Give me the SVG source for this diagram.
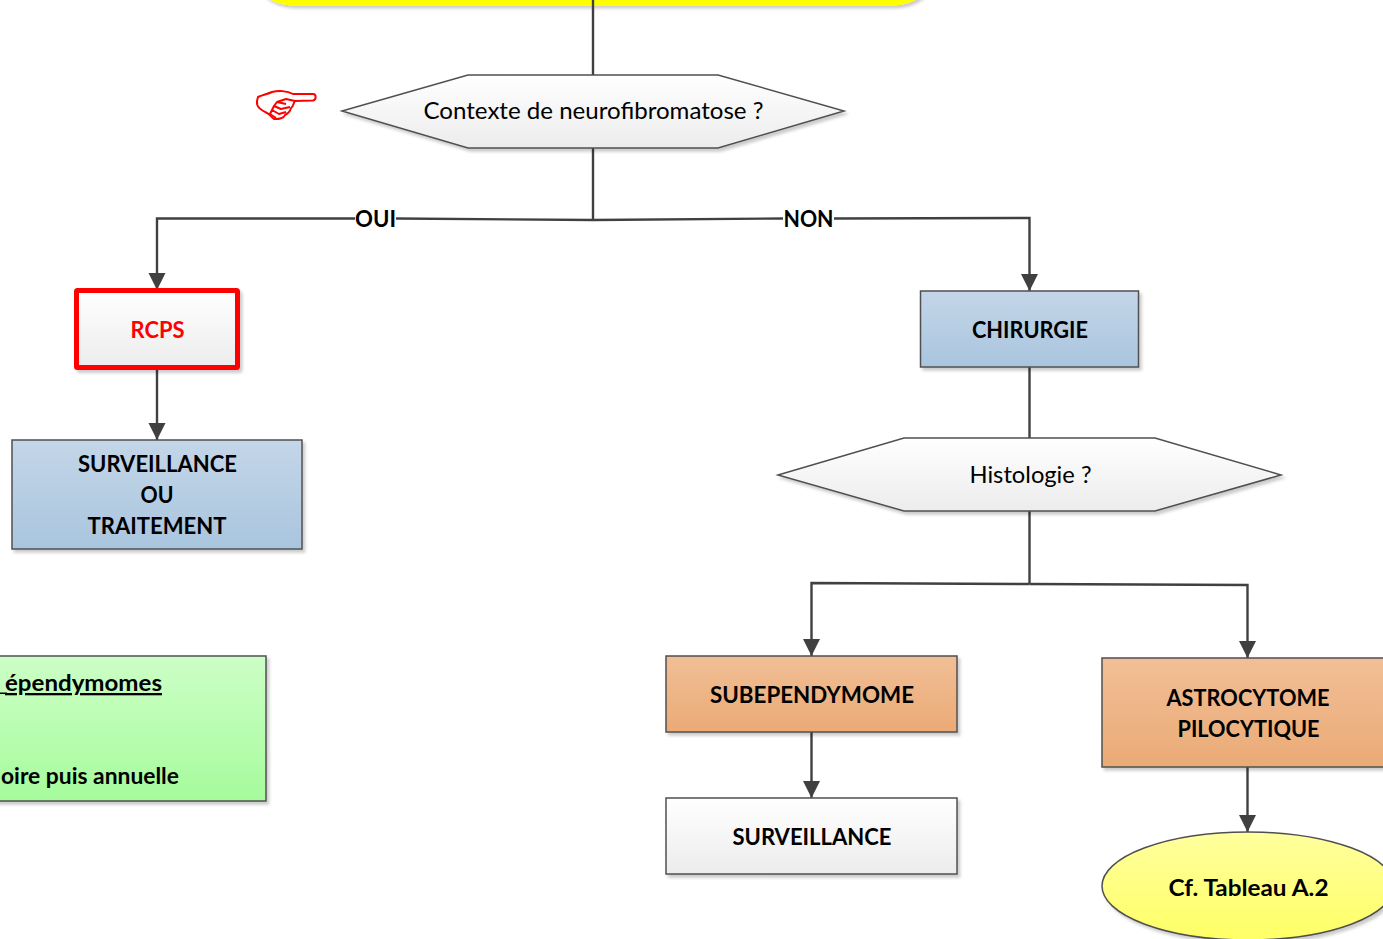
<svg xmlns="http://www.w3.org/2000/svg" width="1383" height="939" viewBox="0 0 1383 939">
<defs>
<linearGradient id="gw" x1="0" y1="0" x2="0" y2="1"><stop offset="0" stop-color="#ffffff"/><stop offset="1" stop-color="#ececec"/></linearGradient>
<linearGradient id="gb" x1="0" y1="0" x2="0" y2="1"><stop offset="0" stop-color="#c4d6e8"/><stop offset="1" stop-color="#a9c5de"/></linearGradient>
<linearGradient id="go" x1="0" y1="0" x2="0" y2="1"><stop offset="0" stop-color="#f1bf96"/><stop offset="1" stop-color="#ebaa76"/></linearGradient>
<linearGradient id="gg" x1="0" y1="0" x2="0" y2="1"><stop offset="0" stop-color="#ccffc6"/><stop offset="1" stop-color="#a6fb9c"/></linearGradient>
<linearGradient id="gy" x1="0" y1="0" x2="0" y2="1"><stop offset="0" stop-color="#ffff9e"/><stop offset="1" stop-color="#ffff66"/></linearGradient>
<filter id="sh" x="-5%" y="-5%" width="112%" height="115%"><feDropShadow dx="2.5" dy="3" stdDeviation="1.8" flood-color="#000" flood-opacity="0.2"/></filter>
<marker id="arr" markerUnits="userSpaceOnUse" markerWidth="19" markerHeight="19" refX="17" refY="9" orient="auto"><path d="M0 0.500L17 9L0 17.500Z" fill="#404040"/></marker>
</defs>
<style>
.n{stroke:#505050;stroke-width:1.500;filter:url(#sh)}
.c{fill:none;stroke:#404040;stroke-width:2.400}
text{font-family:"Lato","Carlito","Liberation Sans",sans-serif;font-size:23px;fill:#000;text-anchor:middle}
.b{font-weight:700}
</style>
<g id="node-top"><rect x="253" y="-60" width="680" height="65.500" rx="40" fill="#ffff00" style="filter:url(#sh)"/></g>
<g id="connectors">
<path class="c" d="M593 0V75"/>
<path class="c" d="M593 148V220"/>
<path class="c" d="M593 220L396 218.500"/>
<path class="c" d="M355 218.500H157V290" marker-end="url(#arr)"/>
<path class="c" d="M593 220L783 218.500"/>
<path class="c" d="M834 218.500L1029.500 218V291" marker-end="url(#arr)"/>
<path class="c" d="M157 368V440" marker-end="url(#arr)"/>
<path class="c" d="M1029.500 367V438"/>
<path class="c" d="M1029.500 511V584"/>
<path class="c" d="M1029.500 584L811.500 583V656" marker-end="url(#arr)"/>
<path class="c" d="M1029.500 584L1247.500 585V658" marker-end="url(#arr)"/>
<path class="c" d="M811.500 732V798" marker-end="url(#arr)"/>
<path class="c" d="M1247.500 766V832" marker-end="url(#arr)"/>
</g>
<g id="label-oui"><text class="b" x="375.500" y="227" textLength="41" lengthAdjust="spacingAndGlyphs">OUI</text></g>
<g id="label-non"><text class="b" x="808.500" y="227" textLength="50" lengthAdjust="spacingAndGlyphs">NON</text></g>
<g id="hand" fill="none" stroke="#ff0000" stroke-width="2" stroke-linejoin="round">
<path d="M258 97C262 95 268 94 272 92C278 90.500 287 90.500 293 94H313C316.500 94 316.500 100 313 100.500L295 101C293 103 294 106 291 108C290 112 287 114 285 115C284 118 279 119.500 274 119C271 117 270 114 267 113C261 110 256 107 257 101Z"/>
<path d="M295 101L286 99L277 102L274 106L281 109L290 107M274 106L272 110L279 114L286 112M272 110L270 114L276 118M277 102L286 104"/>
</g>
<g id="node-neuro"><polygon class="n" points="342,111 468,75 718,75 844,111 718,148 468,148" fill="url(#gw)"/><text x="593.500" y="119" textLength="340" lengthAdjust="spacingAndGlyphs">Contexte de neurofibromatose ?</text></g>
<g id="node-rcps"><rect x="76.500" y="290.500" width="161" height="77" rx="1" fill="url(#gw)" stroke="#ff0000" stroke-width="5" style="filter:url(#sh)"/><text class="b" x="157.500" y="338" style="fill:#ff0000" textLength="54" lengthAdjust="spacingAndGlyphs">RCPS</text></g>
<g id="node-surv-trait"><rect class="n" x="12" y="440" width="290" height="109" fill="url(#gb)"/>
<text class="b" x="157.500" y="472" textLength="159" lengthAdjust="spacingAndGlyphs">SURVEILLANCE</text>
<text class="b" x="157" y="503" textLength="33" lengthAdjust="spacingAndGlyphs">OU</text>
<text class="b" x="157" y="534" textLength="139" lengthAdjust="spacingAndGlyphs">TRAITEMENT</text></g>
<g id="node-chirurgie"><rect class="n" x="920.500" y="291" width="218" height="76" fill="url(#gb)"/><text class="b" x="1030" y="338" textLength="116" lengthAdjust="spacingAndGlyphs">CHIRURGIE</text></g>
<g id="node-histologie"><polygon class="n" points="778,475 904,438 1155,438 1281,475 1155,511 904,511" fill="url(#gw)"/><text x="1030.500" y="483" textLength="122" lengthAdjust="spacingAndGlyphs">Histologie ?</text></g>
<g id="node-green"><rect class="n" x="-120" y="656" width="386" height="145" fill="url(#gg)"/>
<rect x="0" y="692.500" width="7" height="1.500" fill="#000"/>
<text class="b" x="5" y="691" style="text-anchor:start;text-decoration:underline" textLength="157" lengthAdjust="spacingAndGlyphs">épendymomes</text>
<text class="b" x="1" y="784" style="text-anchor:start" textLength="178" lengthAdjust="spacingAndGlyphs">oire puis annuelle</text></g>
<g id="node-subep"><rect class="n" x="666" y="656" width="291" height="76" fill="url(#go)"/><text class="b" x="812" y="703" textLength="204" lengthAdjust="spacingAndGlyphs">SUBEPENDYMOME</text></g>
<g id="node-astro"><rect class="n" x="1102" y="658" width="296" height="109" fill="url(#go)"/>
<text class="b" x="1248" y="706" textLength="163" lengthAdjust="spacingAndGlyphs">ASTROCYTOME</text>
<text class="b" x="1248.500" y="737" textLength="142" lengthAdjust="spacingAndGlyphs">PILOCYTIQUE</text></g>
<g id="node-surv"><rect class="n" x="666" y="798" width="291" height="76" fill="url(#gw)"/><text class="b" x="812" y="845" textLength="159" lengthAdjust="spacingAndGlyphs">SURVEILLANCE</text></g>
<g id="node-tableau"><ellipse class="n" cx="1248" cy="886" rx="146" ry="54" fill="url(#gy)"/><text class="b" x="1248.500" y="896" textLength="160" lengthAdjust="spacingAndGlyphs">Cf. Tableau A.2</text></g>
</svg>
